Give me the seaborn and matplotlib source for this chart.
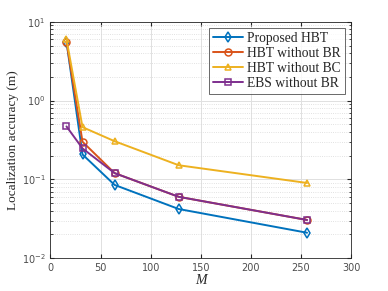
import pandas as pd
import seaborn as sns
import matplotlib.pyplot as plt
from matplotlib.ticker import LogLocator, NullFormatter

# data
M = [16, 32, 64, 128, 256]
proposed_hbt = [5.6, 0.207, 0.085, 0.042, 0.021]
hbt_without_br = [5.6, 0.30, 0.12, 0.06, 0.0305]
hbt_without_bc = [6.0, 0.46, 0.305, 0.151, 0.09]
ebs_without_br = [0.47, 0.247, 0.12, 0.06, 0.0305]

names = ['Proposed HBT', 'HBT without BR', 'HBT without BC', 'EBS without BR']
series = [proposed_hbt, hbt_without_br, hbt_without_bc, ebs_without_br]
colors = ['#0072BD', '#D95319', '#EDB120', '#7E2F8E']
markers = ['d', 'o', '^', 's']

sns.set_style('ticks')
plt.rcParams['font.family'] = ['DejaVu Sans']

fig, ax = plt.subplots(figsize=(3.88, 2.91), dpi=100)
fig.subplots_adjust(left=0.13, right=0.905, top=0.925, bottom=0.113)

for n, v, c, mk in zip(names, series, colors, markers):
    d = pd.DataFrame({'M': M, 'acc': v})
    sns.lineplot(data=d, x='M', y='acc', color=c, marker=mk, label=n,
                 linewidth=1.4, markersize=5, markerfacecolor='none',
                 markeredgecolor=c, markeredgewidth=1.1, ax=ax)

ax.set_yscale('log')
ax.set_xlim(0, 300)
ax.set_ylim(1e-2, 1e1)
ax.set_xticks([0, 50, 100, 150, 200, 250, 300])
ax.yaxis.set_minor_locator(LogLocator(base=10, subs=range(2, 10)))
ax.yaxis.set_minor_formatter(NullFormatter())

ax.grid(True, which='major', color='#e0e0e0', linewidth=0.7)
ax.grid(True, which='minor', axis='y', color='#d8d8d8', linestyle=':', linewidth=0.6)

ax.tick_params(which='both', direction='in', top=True, right=True, labelsize=7, colors='#262626',
               labelcolor='#4d4d4d')
ax.tick_params(which='major', length=3)
ax.tick_params(which='minor', length=1.8)
for s in ax.spines.values():
    s.set_color('#262626')
    s.set_linewidth(0.6)

serif = ['Liberation Serif', 'DejaVu Serif']
ax.set_xlabel('M', fontsize=10, family=serif, style='italic', labelpad=1)
ax.set_ylabel('Localization accuracy (m)', fontsize=9.5, family=serif, labelpad=2)

leg = ax.legend(loc='upper right', prop={'family': serif, 'size': 9.8}, frameon=True, fancybox=False,
                edgecolor='#262626', borderpad=0.3, labelspacing=0.15, handlelength=2.2,
                handletextpad=0.3, borderaxespad=0.45)
leg.get_frame().set_linewidth(0.6)

fig.savefig('out.png', dpi=100)
